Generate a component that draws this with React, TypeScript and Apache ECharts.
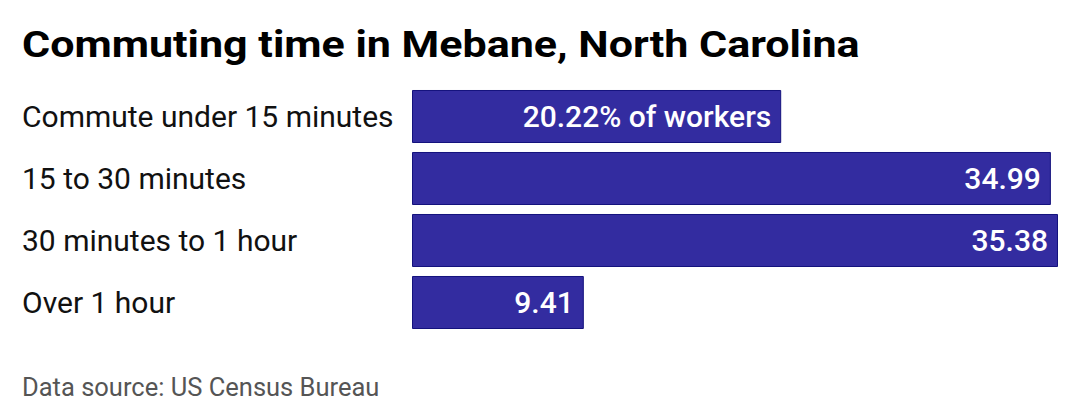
import React, { useEffect, useRef } from 'react';
import * as echarts from 'echarts';

const categories = ['Commute under 15 minutes', '15 to 30 minutes', '30 minutes to 1 hour', 'Over 1 hour'];
const shares = [20.22, 34.99, 35.38, 9.41];
const titleText = 'Commuting time in Mebane, North Carolina';
const sourceText = 'Data source: US Census Bureau';

export default function App() {
    const chartRef = useRef<HTMLDivElement | null>(null);

    useEffect(() => {
        document.body.style.margin = '0';
        if (!chartRef.current) return;
        const chart = echarts.init(chartRef.current, null, { renderer: 'svg' });

        const option = {
            animation: false,
            textStyle: { fontFamily: 'Roboto' },
            // title drawn as graphic text so it can be stretched a little wider, like the reference
            graphic: [
                {
                    type: 'text',
                    x: 22,
                    y: 45,
                    scaleX: 1.163,
                    style: {
                        text: titleText,
                        fontSize: 37,
                        fontWeight: 'bold',
                        fontFamily: 'Roboto',
                        fill: '#000',
                        verticalAlign: 'middle',
                        align: 'left',
                    },
                },
            ],
            title: {
                text: sourceText,
                left: 17,
                top: 369,
                textStyle: { fontSize: 25.5, fontWeight: 'normal', color: '#555', fontFamily: 'Roboto' },
            },
            grid: { left: 412, right: 22, top: 85.5, height: 248 },
            xAxis: {
                type: 'value',
                min: 0,
                max: 35.38,
                show: false,
            },
            yAxis: {
                type: 'category',
                data: categories,
                inverse: true,
                axisLine: { show: false },
                axisTick: { show: false },
                axisLabel: {
                    align: 'left',
                    margin: 390,
                    fontSize: 30,
                    color: '#111',
                    fontFamily: 'Roboto',
                },
            },
            series: [
                {
                    type: 'bar',
                    data: shares,
                    barCategoryGap: '14.5%',
                    itemStyle: { color: '#332ca0', borderColor: '#14127d', borderWidth: 1 },
                    label: {
                        show: true,
                        position: 'insideRight',
                        distance: 10,
                        fontSize: 30,
                        fontWeight: 500,
                        color: '#fff',
                        fontFamily: 'Roboto',
                        formatter: (p: any) => (p.dataIndex === 0 ? `${p.value}% of workers` : `${p.value}`),
                    },
                },
            ],
        };

        chart.setOption(option);
        return () => {
            chart.dispose();
        };
    }, []);

    return <div ref={chartRef} style={{ width: '1080px', height: '420px' }} />;
}
